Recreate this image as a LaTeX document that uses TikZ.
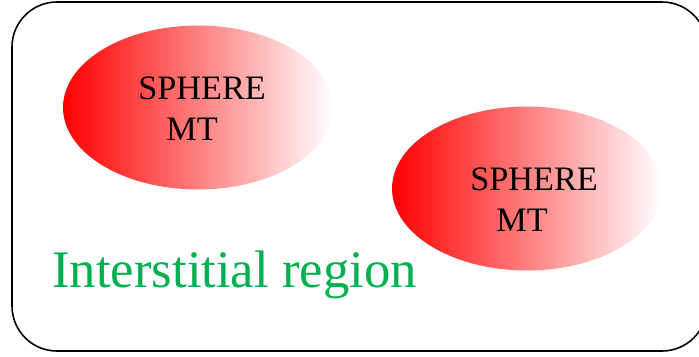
\documentclass[tikz,border=0pt]{standalone}
\usepackage{fontspec}
\setmainfont{Liberation Serif}
\usetikzlibrary{shapes.geometric}
\definecolor{regiongreen}{HTML}{00B050}
\begin{document}
\begin{tikzpicture}[x=0.02cm, y=-0.02cm,
	sph/.style={ellipse, inner sep=0pt, minimum width=5.4cm, minimum height=3.28cm, left color=red, right color=white},
	lbl/.style={inner sep=0pt, anchor=base west, align=left, font=\fontsize{19.5}{23.3}\selectfont}]
	\useasboundingbox (0,0) rectangle (699,356);
	\draw[line width=0.9pt, rounded corners=0.9cm] (12,2) rectangle (707,351);

	\node[sph] (S0) at (198,107.5) {};
	\node[sph] (S1) at (527,188.5) {};

	\node[lbl] (L0) at (138,140) {SPHERE\\\hspace*{0.56cm}MT};
	\node[lbl] (L1) at (470,231) {SPHERE\\\hspace*{0.52cm}MT};
	\node[lbl, text=regiongreen, font=\fontsize{30}{32}\selectfont] (R) at (52,287) {Interstitial region};
\end{tikzpicture}
\end{document}
